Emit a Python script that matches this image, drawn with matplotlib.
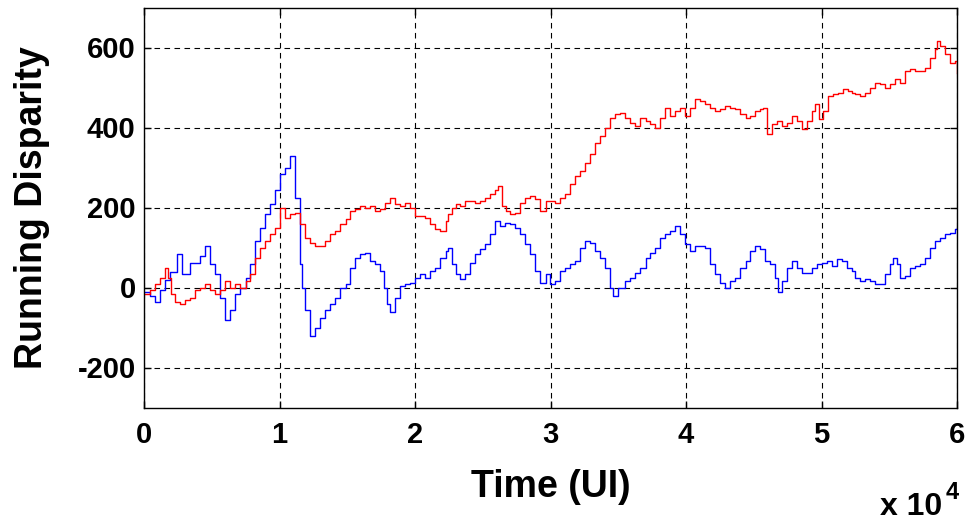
import matplotlib.pyplot as plt
import numpy as np

# Running disparity traces (time in UI, disparity in counts)
t_blue = [0, 440, 810, 1180, 1550, 1920, 2440, 2800, 3400, 4130, 4500, 4870, 5240,
          5610, 5980, 6350, 6720, 7080, 7530, 7820, 8190, 8560, 8930, 9300, 9670,
          10040, 10410, 10770, 11140, 11510, 11660, 11880, 12250, 12620, 12990, 13360,
          13730, 14100, 14470, 14910, 15200, 15570, 15940, 16310, 16680, 17050, 17420,
          17710, 17930, 18150, 18520, 18890, 19260, 19630, 20000, 20370, 20740, 21110,
          21480, 21850, 22290, 22440, 22730, 23030, 23320, 23690, 24060, 24430, 24800,
          25170, 25530, 25900, 26270, 26640, 27010, 27380, 27750, 28120, 28490, 28860,
          29220, 29670, 29960, 30330, 30700, 31070, 31440, 31810, 32180, 32550, 32920,
          33280, 33650, 34020, 34390, 34610, 34980, 35500, 35870, 36240, 36600, 37050,
          37340, 37710, 38080, 38450, 38820, 39190, 39560, 39930, 40300, 40660, 41030,
          41400, 41770, 42140, 42510, 42880, 43250, 43620, 43990, 44430, 44720, 45090,
          45460, 45830, 46200, 46570, 46790, 47080, 47450, 47820, 48190, 48560, 48930,
          49300, 49670, 50040, 50410, 50770, 51140, 51510, 51880, 52250, 52470, 52840,
          53210, 53580, 53950, 54320, 54690, 55060, 55280, 55570, 55790, 56160, 56530,
          56900, 57270, 57640, 58010, 58380, 58750, 59110, 59480, 59850, 60000]
rd_blue = [-10, -20, -37, -5, 20, 40, 83, 35, 62, 80, 105, 60, 35,
           -25, -82, -57, -15, 0, 25, 60, 117, 150, 185, 210, 243,
           285, 300, 330, 225, 60, 0, -57, -120, -100, -75, -57,
           -40, -25, 0, 10, 50, 75, 85, 87, 67, 60, 42,
           0, -40, -62, -25, 5, 10, 12, 25, 35, 25, 42,
           50, 75, 92, 100, 60, 35, 22, 35, 62, 85, 97,
           110, 135, 167, 155, 162, 160, 150, 135, 110, 85, 42,
           12, 35, 10, 17, 42, 50, 60, 67, 100, 117, 112,
           92, 75, 50, -2, -20, 0, 17, 25, 37, 50, 75,
           87, 100, 125, 135, 142, 155, 135, 110, 92, 105, 105,
           100, 60, 35, 12, -2, 17, 25, 50, 67, 92, 105,
           97, 67, 60, 25, -12, 17, 50, 67, 50, 37, 37,
           50, 60, 62, 67, 55, 72, 67, 50, 42, 25, 17,
           22, 17, 10, 10, 35, 60, 75, 60, 25, 30, 50,
           55, 60, 75, 100, 117, 125, 135, 137, 147, 150]

t_red = [0, 440, 810, 1180, 1550, 1770, 1990, 2290, 2660, 3030, 3400, 3760, 4130,
         4500, 4870, 5240, 5610, 5980, 6350, 6720, 7080, 7530, 7820, 8190, 8560,
         8930, 9300, 9670, 10040, 10410, 10770, 11140, 11510, 11880, 12250, 12620,
         12990, 13360, 13730, 14100, 14470, 14910, 15200, 15570, 15940, 16310, 16680,
         17050, 17420, 17790, 18150, 18520, 18890, 19260, 19630, 20000, 20370, 20740,
         21110, 21480, 21850, 22290, 22440, 22730, 23030, 23320, 23690, 24060, 24430,
         24800, 25170, 25530, 25900, 26130, 26420, 26720, 27010, 27380, 27750, 28120,
         28490, 28860, 29220, 29670, 29960, 30330, 30700, 31070, 31440, 31810, 32180,
         32550, 32920, 33280, 33650, 34020, 34390, 34760, 35130, 35500, 35870, 36240,
         36600, 37050, 37340, 37710, 38080, 38450, 38820, 39190, 39560, 39930, 40300,
         40660, 41030, 41400, 41770, 42140, 42510, 42880, 43250, 43620, 43990, 44430,
         44720, 45090, 45460, 45680, 45980, 46350, 46720, 47080, 47450, 47820, 48190,
         48560, 48930, 49300, 49520, 49820, 50110, 50480, 50850, 51220, 51590, 51960,
         52250, 52470, 52840, 53210, 53580, 53950, 54320, 54690, 55060, 55420, 55790,
         56160, 56530, 56900, 57270, 57640, 58010, 58380, 58520, 58750, 59110, 59480,
         59850, 60000]
rd_red = [-15, -7, 10, 25, 50, 25, -15, -37, -40, -32, -25, -7, 0,
          10, -7, -15, -7, 17, 0, 10, 0, 17, 35, 75, 100,
          117, 135, 150, 200, 175, 185, 187, 160, 125, 112, 105,
          105, 117, 135, 142, 160, 172, 192, 197, 205, 200, 205,
          192, 197, 212, 225, 210, 205, 212, 200, 180, 180, 175,
          160, 147, 142, 167, 185, 200, 210, 205, 217, 217, 212,
          217, 225, 235, 243, 255, 205, 192, 185, 187, 212, 225,
          230, 222, 192, 217, 217, 212, 225, 235, 260, 280, 292,
          312, 335, 362, 380, 400, 425, 435, 437, 425, 412, 405,
          425, 417, 410, 400, 425, 450, 430, 442, 450, 430, 450,
          472, 467, 460, 450, 442, 447, 455, 450, 447, 435, 425,
          430, 442, 447, 450, 385, 410, 417, 405, 412, 430, 417,
          397, 417, 442, 460, 422, 442, 480, 485, 487, 497, 492,
          487, 485, 480, 487, 500, 512, 510, 500, 510, 522, 512,
          542, 547, 542, 542, 550, 575, 597, 617, 605, 585, 562,
          567, 537]

x_ticks = [0, 10000, 20000, 30000, 40000, 50000, 60000]
x_tick_labels = ['0', '1', '2', '3', '4', '5', '6']
y_ticks = [-200, 0, 200, 400, 600]

plt.rcParams['font.family'] = ['Liberation Sans', 'DejaVu Sans']
plt.rcParams['font.weight'] = 'bold'
plt.rcParams['axes.unicode_minus'] = False

fig = plt.figure(figsize=(9.68, 5.22), dpi=100)
ax = fig.add_axes([144 / 968, 1 - 407.5 / 522, 813 / 968, 400 / 522])

ax.plot(t_blue, rd_blue, color='#0000ff', linewidth=1.0, drawstyle='steps-post')
ax.plot(t_red, rd_red, color='#ff0000', linewidth=1.0, drawstyle='steps-post')

ax.set_xlim(0, 60000)
ax.set_ylim(-300, 700)
ax.set_xticks(x_ticks)
ax.set_xticklabels(x_tick_labels)
ax.set_yticks(y_ticks)

ax.grid(True, color='black', linestyle=(0, (5, 4)), linewidth=0.8)
ax.tick_params(direction='in', length=5, width=1, top=True, right=True,
               labelsize=21)
ax.tick_params(axis='x', pad=10)
ax.tick_params(axis='y', pad=6)
for spine in ax.spines.values():
    spine.set_linewidth(1.0)

ax.set_xlabel('Time (UI)', fontsize=27, fontweight='bold', labelpad=14)
ax.set_ylabel('Running Disparity', fontsize=27, fontweight='bold', labelpad=20)

# MATLAB-style exponent note under the x axis
fig.text(0.973, 0.013, 'x 10', ha='right', va='baseline',
         fontsize=23, fontweight='bold')
fig.text(0.977, 0.045, '4', ha='left', va='baseline',
         fontsize=17, fontweight='bold')

fig.savefig('out.png', dpi=100)
